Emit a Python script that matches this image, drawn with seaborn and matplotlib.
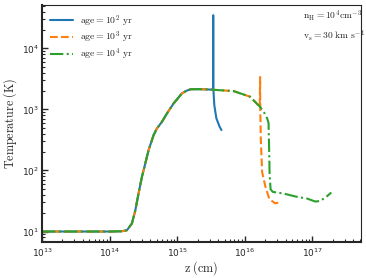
import matplotlib
matplotlib.use("Agg")
import matplotlib.pyplot as plt
from matplotlib.font_manager import FontProperties
import pandas as pd
import seaborn as sns

# shared pre-shock / precursor part of the temperature profile
z_common = [1e13, 5e13, 1e14, 1.5e14, 1.8e14, 2.13e14, 2.39e14, 2.67e14, 3.0e14,
            3.36e14, 3.76e14, 4.46e14, 5.0e14, 5.93e14, 7.03e14, 8.8e14,
            1.17e15, 1.36e15, 1.6e15, 2.2e15, 3.0e15]
T_common = [10, 10, 10, 10.1, 10.5, 13.5, 22, 42, 78.5,
            130, 215, 380, 489, 627, 860, 1250,
            1830, 2020, 2150, 2150, 2120]

# age = 1e2 yr : J-front at ~3.4e15 cm
z_age2 = [3.38e15, 3.40e15, 3.42e15, 3.53e15, 3.78e15, 4.2e15, 4.5e15]
T_age2 = [2110, 35000, 2150, 1180, 720, 530, 460]

# age = 1e3 yr
z_age3 = [6.8e15, 1.19e16, 1.42e16, 1.66e16, 1.68e16, 1.69e16, 1.72e16,
          1.8e16, 2.0e16, 2.3e16, 2.8e16, 3.3e16]
T_age3 = [2000, 1620, 1330, 1100, 3400, 1000, 325,
          94, 56, 34, 29, 30]

# age = 1e4 yr
z_age4 = [6.8e15, 1.19e16, 1.42e16, 1.68e16, 1.95e16, 2.14e16, 2.24e16, 2.28e16,
          2.32e16, 2.4e16, 2.6e16, 3.7e16, 5.9e16, 8.3e16, 1.1e17, 1.3e17,
          1.6e17, 1.9e17]
T_age4 = [2000, 1620, 1330, 1100, 870, 710, 600, 250,
          90, 49, 44.5, 42, 37, 34.7, 31, 31.6,
          37, 43.6]

labels = [r"$\mathrm{age} = 10^2\ \mathrm{yr}$",
          r"$\mathrm{age} = 10^3\ \mathrm{yr}$",
          r"$\mathrm{age} = 10^4\ \mathrm{yr}$"]
colors = ["#1f77b4", "#ff7f0e", "#2ca02c"]
styles = ["-", "--", "-."]

sns.set_style("ticks")
plt.rcParams["font.family"] = ["DejaVu Sans"]
plt.rcParams["mathtext.fontset"] = "dejavusans"

fig, ax = plt.subplots(figsize=(3.66, 2.78), dpi=100)
fig.subplots_adjust(left=0.115, right=0.986, bottom=0.129, top=0.983)

curves = [(z_age2, T_age2), (z_age3, T_age3), (z_age4, T_age4)]
for (z, T), lab, col, ls in zip(curves, labels, colors, styles):
    df = pd.DataFrame({"z": z_common + z, "T": T_common + T})
    sns.lineplot(data=df, x="z", y="T", sort=False, estimator=None, color=col,
                 linestyle=ls, linewidth=1.5, label=lab, ax=ax)

ax.set_xscale("log")
ax.set_yscale("log")
ax.set_xlim(1e13, 5.2e17)
ax.set_ylim(6.7, 5.2e4)

cm_lab = dict(fontsize=8.7, math_fontfamily="cm")
ax.set_xlabel(r"$\mathrm{z\ (cm)}$", labelpad=0.5, **cm_lab)
ax.set_ylabel(r"$\mathrm{Temperature\ (K)}$", labelpad=2, **cm_lab)

ax.tick_params(which="both", direction="in", labelsize=6.5, top=False, right=False)
ax.tick_params(which="major", length=4, width=1)
ax.tick_params(which="minor", length=2.3, width=0.8)
ax.tick_params(axis="x", pad=3)
ax.tick_params(axis="y", pad=2)
for side in ["left", "bottom"]:
    ax.spines[side].set_linewidth(1.5)
for side in ["top", "right"]:
    ax.spines[side].set_linewidth(0.8)

leg_prop = FontProperties(size=7, math_fontfamily="cm")
ax.legend(loc="upper left", frameon=False, prop=leg_prop, handlelength=2.3,
          handletextpad=0.8, labelspacing=0.15, borderaxespad=0.45)

ax.text(0.82, 0.985, r"$\mathrm{n_H} = 10^4\mathrm{cm^{-3}}$" + "\n" +
        r"$\mathrm{v_s} = 30\ \mathrm{km\ s^{-1}}$",
        transform=ax.transAxes, ha="left", va="top", fontsize=6.9,
        math_fontfamily="cm", linespacing=1.45)

fig.savefig("out.png", dpi=100)
